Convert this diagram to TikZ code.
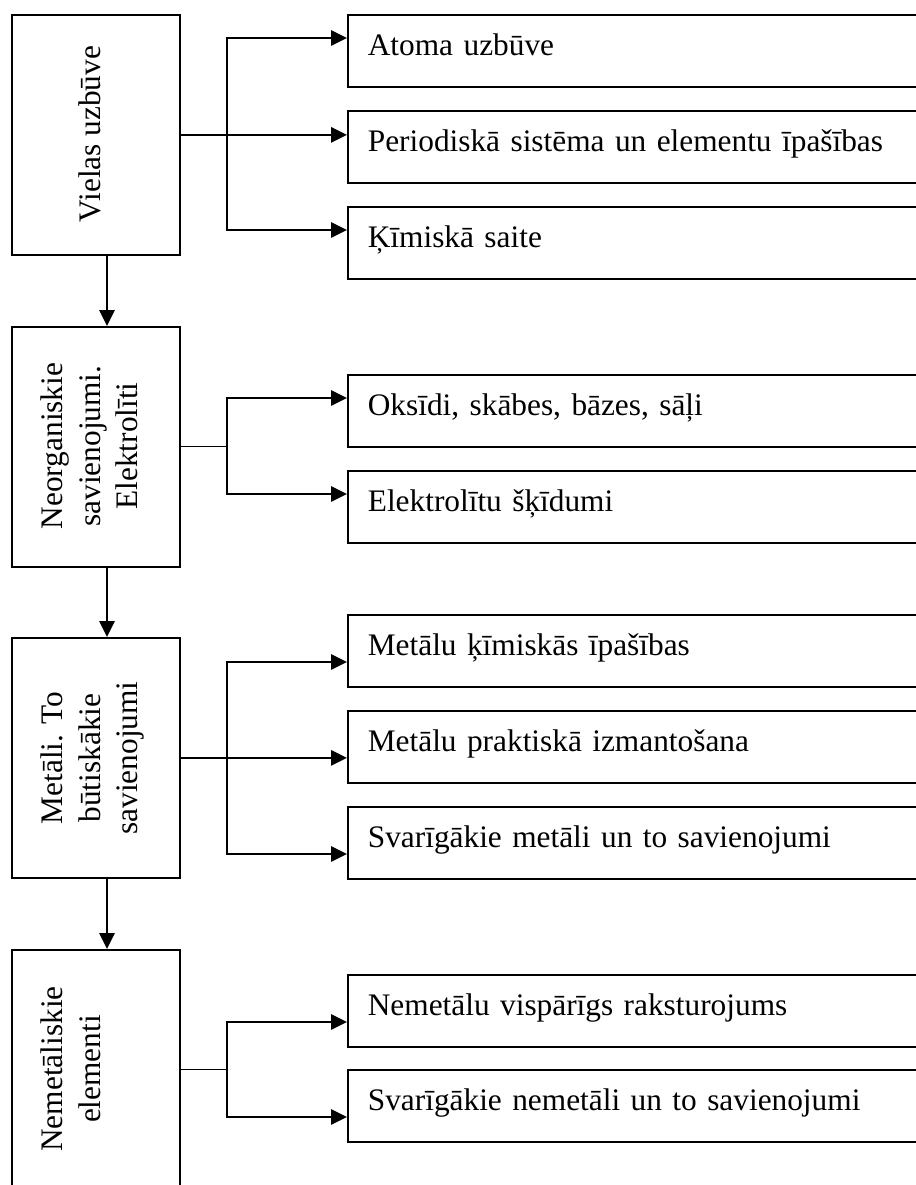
\documentclass[tikz,border=0pt]{standalone}
\usepackage{fontspec}
\setmainfont{Liberation Serif}
\usetikzlibrary{arrows.meta,calc}
\begin{document}
\begin{tikzpicture}[x=0.75pt,y=-0.75pt,
  every node/.style={font=\fontsize{23.5pt}{28.5pt}\selectfont},
  lbox/.style={draw, line width=1.3pt, anchor=north west, minimum width=126pt, minimum height=180pt, inner sep=0pt},
  rbox/.style={draw, line width=1.3pt, anchor=north west, minimum height=54pt, text width=420pt, inner xsep=15pt, inner ysep=0pt, align=left, text height=14pt, text depth=6.5pt},
  vlab/.style={rotate=90, anchor=base, inner sep=0pt},
  thinlink/.style={line width=0.9pt},
  arr/.style={line width=1.3pt, -{Triangle[length=12pt,width=11.5pt]}},
]
\useasboundingbox (0,0) rectangle (915,1185);

% left column boxes
\node[lbox] (A) at (11,14) {};
\node[lbox] (B) at (11,326) {};
\node[lbox] (C) at (11,637) {};
\node[lbox] (D) at (11,949) {};

% left column labels
\node[vlab] (LA) at (100,134) {Vielas uzbūve};
\node[vlab] (LB1) at (62,446) {Neorganiskie};
\node[vlab] (LB2) at (100,446) {savienojumi.};
\node[vlab] (LB3) at (137,446) {Elektrolīti};
\node[vlab] (LC1) at (62,758) {Metāli. To};
\node[vlab] (LC2) at (100,758) {būtiskākie};
\node[vlab] (LC3) at (137,758) {savienojumi};
\node[vlab] (LD1) at (62,1069) {Nemetāliskie};
\node[vlab] (LD2) at (100,1069) {elementi};

% right column boxes
\node[rbox] (A1) at (347,14) {Atoma uzbūve};
\node[rbox] (A2) at (347,110) {Periodiskā sistēma un elementu īpašības};
\node[rbox] (A3) at (347,206) {Ķīmiskā saite};
\node[rbox] (B1) at (347,374) {Oksīdi, skābes, bāzes, sāļi};
\node[rbox] (B2) at (347,470) {Elektrolītu šķīdumi};
\node[rbox] (C1) at (347,614) {Metālu ķīmiskās īpašības};
\node[rbox] (C2) at (347,710) {Metālu praktiskā izmantošana};
\node[rbox] (C3) at (347,806) {Svarīgākie metāli un to savienojumi};
\node[rbox] (D1) at (347,974) {Nemetālu vispārīgs raksturojums};
\node[rbox] (D2) at (347,1069) {Svarīgākie nemetāli un to savienojumi};

% helper coordinates
\coordinate (vx) at (107,0);
\coordinate (tx) at (227,0);
\coordinate (a1) at ($(A1.north west)+(0,24)$);
\coordinate (a3) at ($(A3.north west)+(0,24)$);
\coordinate (b1) at ($(B1.north west)+(0,24)$);
\coordinate (b2) at ($(B2.north west)+(0,24)$);
\coordinate (c1) at ($(C1.north west)+(0,48)$);
\coordinate (c3) at ($(C3.north west)+(0,48)$);
\coordinate (d1) at ($(D1.north west)+(0,48)$);
\coordinate (d2) at ($(D2.north west)+(0,48)$);

% vertical chain
\draw[arr] (A.south -| vx) -- (B.north -| vx);
\draw[arr] (B.south -| vx) -- (C.north -| vx);
\draw[arr] (C.south -| vx) -- (D.north -| vx);

% branches A
\draw[arr] (A.east) -- (A.east -| A2.west);
\draw[arr] (A.east -| tx) |- (a1);
\draw[arr] (A.east -| tx) |- (a3);

% branches B
\draw[thinlink] (B.east) -- (B.east -| tx);
\draw[arr] (B.east -| tx) |- (b1);
\draw[arr] (B.east -| tx) |- (b2);

% branches C
\draw[arr] (C.east) -- (C.east -| C2.west);
\draw[arr] (C.east -| tx) |- (c1);
\draw[arr] (C.east -| tx) |- (c3);

% branches D
\draw[thinlink] (D.east) -- (D.east -| tx);
\draw[arr] (D.east -| tx) |- (d1);
\draw[arr] (D.east -| tx) |- (d2);
\end{tikzpicture}
\end{document}
